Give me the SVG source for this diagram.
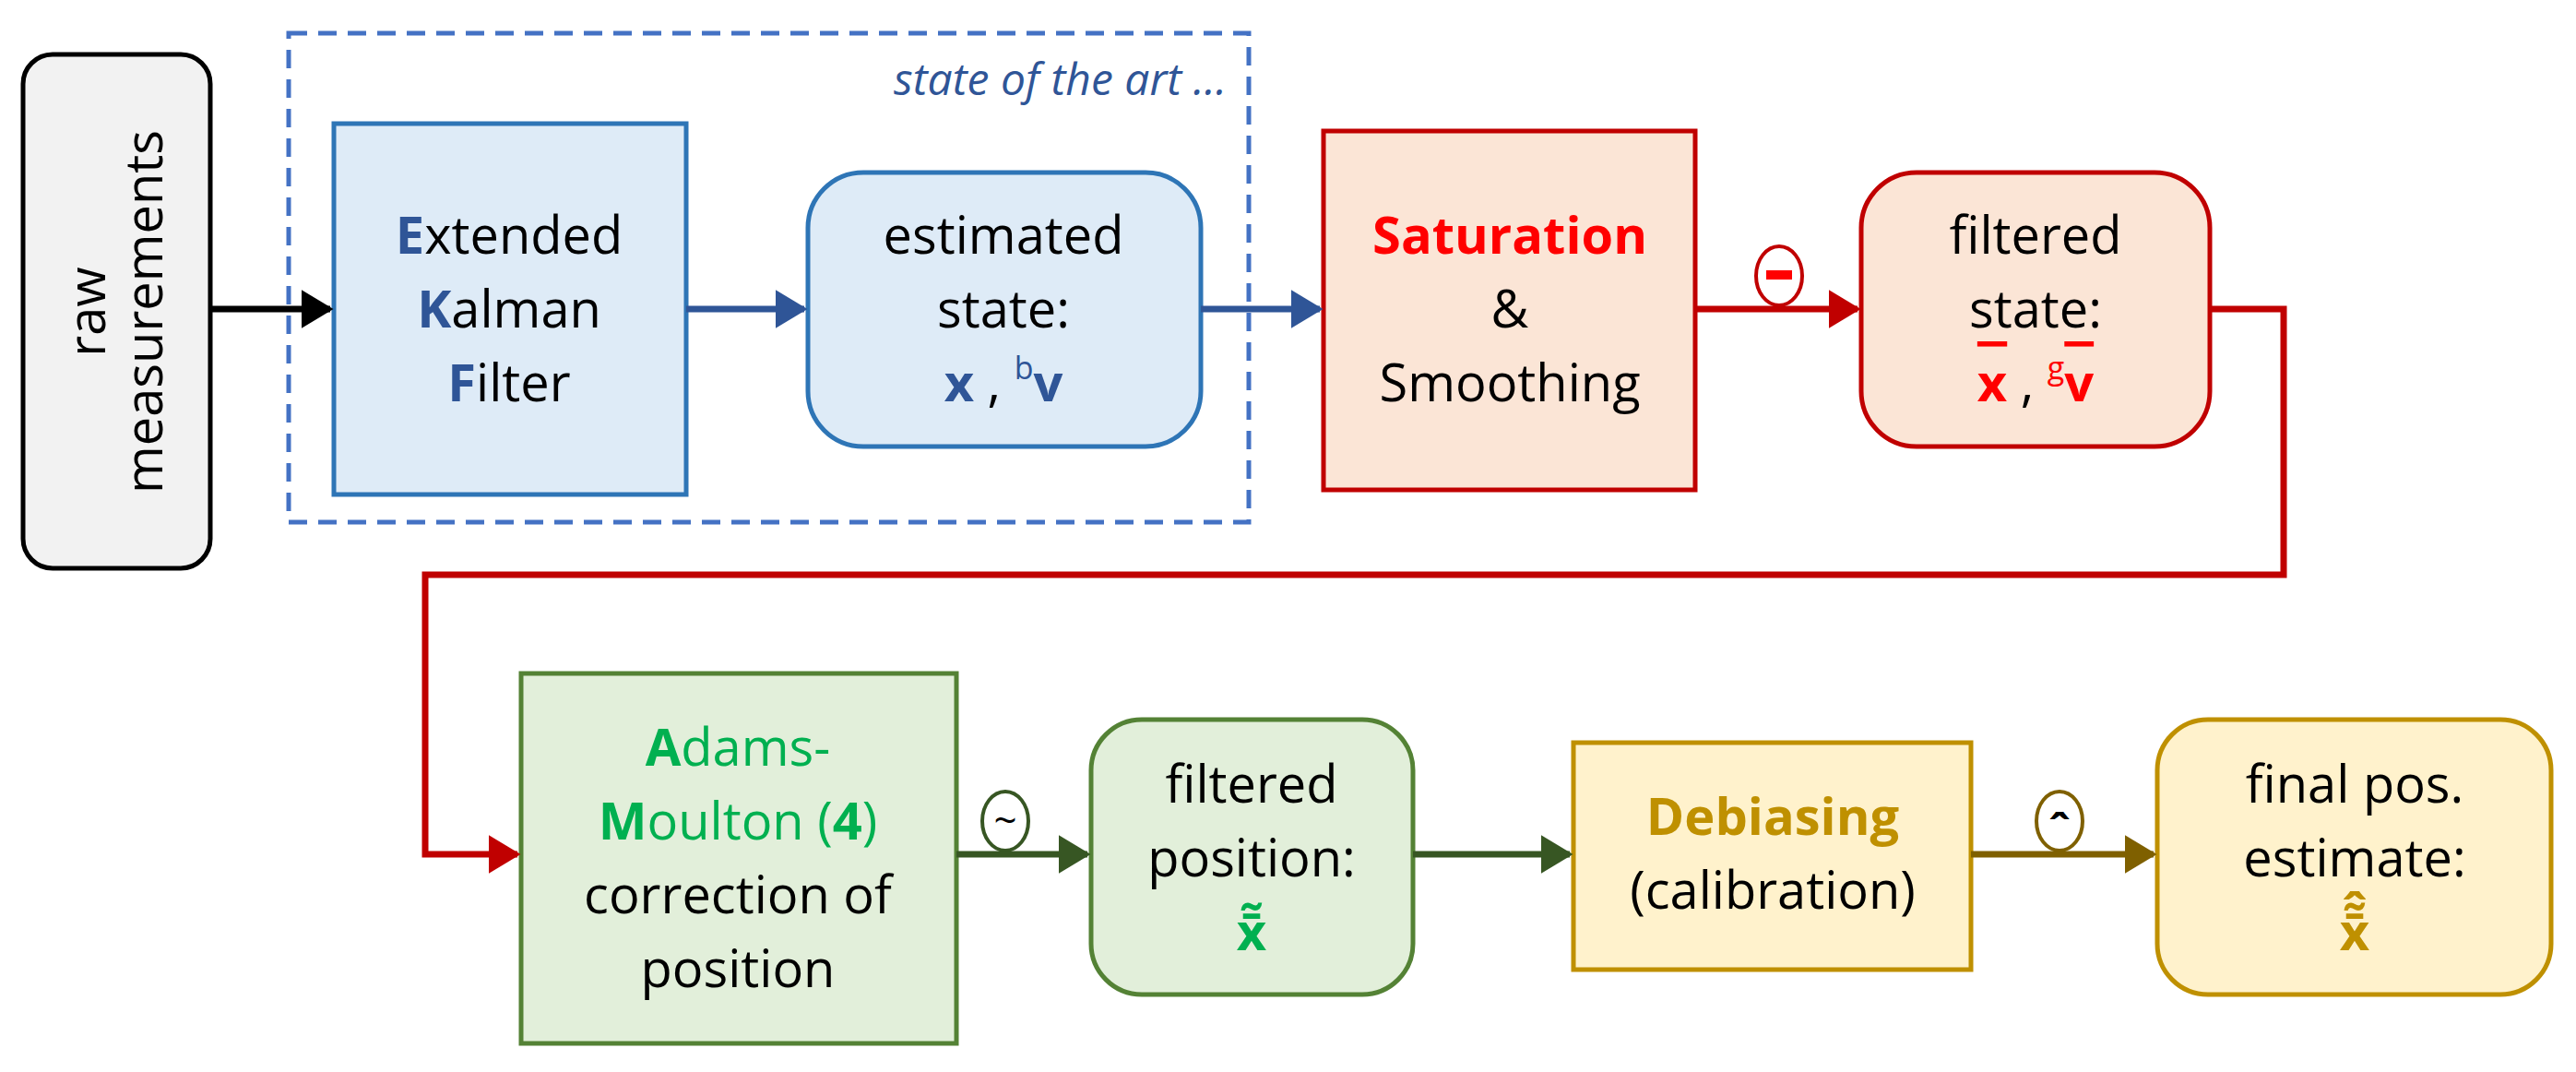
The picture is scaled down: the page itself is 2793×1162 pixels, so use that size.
<svg xmlns="http://www.w3.org/2000/svg" width="2793" height="1162" viewBox="0 0 2793 1162">
<style>
text{font-family:"Open Sans","Liberation Sans",sans-serif;font-size:56px;text-anchor:middle;fill:#000}
.b{font-weight:bold}
.bl{fill:#2F5597}.rd{fill:#FF0000}.gr{fill:#00B050}.go{fill:#BF9000}
.ln{fill:none;stroke-width:7}
</style>
<defs>
<marker id="ak" markerWidth="5" markerHeight="6" refX="4.5" refY="3" orient="auto" markerUnits="strokeWidth"><path d="M0,0L5,3L0,6z" fill="#000"/></marker>
<marker id="ab" markerWidth="5" markerHeight="6" refX="4.5" refY="3" orient="auto" markerUnits="strokeWidth"><path d="M0,0L5,3L0,6z" fill="#2F5597"/></marker>
<marker id="ar" markerWidth="5" markerHeight="6" refX="4.5" refY="3" orient="auto" markerUnits="strokeWidth"><path d="M0,0L5,3L0,6z" fill="#C00000"/></marker>
<marker id="ag" markerWidth="5" markerHeight="6" refX="4.5" refY="3" orient="auto" markerUnits="strokeWidth"><path d="M0,0L5,3L0,6z" fill="#375623"/></marker>
<marker id="ao" markerWidth="5" markerHeight="6" refX="4.5" refY="3" orient="auto" markerUnits="strokeWidth"><path d="M0,0L5,3L0,6z" fill="#7F6000"/></marker>
</defs>
<g id="soa">
<rect x="313" y="36" width="1041" height="530" fill="none" stroke="#4472C4" stroke-width="5" stroke-dasharray="20,12"/>
<text x="1330" y="103" style="text-anchor:end;font-style:italic;font-size:48px" class="bl">state of the art …</text>
</g>
<g id="raw">
<rect x="25" y="59" width="203" height="557" rx="32" fill="#F2F2F2" stroke="#000" stroke-width="5"/>
<text transform="translate(126,338) rotate(-90)" y="-12">raw</text>
<text transform="translate(126,338) rotate(-90)" y="50">measurements</text>
</g>
<g id="ekf">
<rect x="362" y="134" width="382" height="402" fill="#DEEBF7" stroke="#2E75B6" stroke-width="5"/>
<text x="552" y="275"><tspan class="b bl">E</tspan>xtended</text>
<text x="552" y="355"><tspan class="b bl">K</tspan>alman</text>
<text x="552" y="435"><tspan class="b bl">F</tspan>ilter</text>
</g>
<g id="est">
<rect x="876" y="187" width="426" height="297" rx="60" fill="#DEEBF7" stroke="#2E75B6" stroke-width="5"/>
<text x="1088" y="275">estimated</text>
<text x="1088" y="355">state:</text>
<text x="1088" y="435"><tspan class="b bl">x</tspan> , <tspan class="bl" font-size="34" dy="-24">b</tspan><tspan class="b bl" dy="24">v</tspan></text>
</g>
<g id="sat">
<rect x="1435" y="142" width="403" height="389" fill="#FBE5D6" stroke="#C00000" stroke-width="5"/>
<text x="1637" y="275" class="b rd">Saturation</text>
<text x="1637" y="355">&amp;</text>
<text x="1637" y="435">Smoothing</text>
</g>
<g id="fst">
<rect x="2018" y="187" width="378" height="297" rx="60" fill="#FBE5D6" stroke="#C00000" stroke-width="5"/>
<text x="2207" y="275">filtered</text>
<text x="2207" y="355">state:</text>
<text x="2207" y="435"><tspan class="b rd" text-decoration="overline">x</tspan> , <tspan class="rd" font-size="34" dy="-24">g</tspan><tspan class="b rd" dy="24" text-decoration="overline">v</tspan></text>
</g>
<g id="am">
<rect x="565" y="730" width="472" height="401" fill="#E2EFDA" stroke="#548235" stroke-width="5"/>
<text x="800" y="830" class="gr"><tspan class="b">A</tspan>dams-</text>
<text x="800" y="910" class="gr"><tspan class="b">M</tspan>oulton (<tspan class="b">4</tspan>)</text>
<text x="800" y="990">correction of</text>
<text x="800" y="1070">position</text>
</g>
<g id="fpos">
<rect x="1183" y="780" width="349" height="298" rx="55" fill="#E2EFDA" stroke="#548235" stroke-width="5"/>
<text x="1357" y="870">filtered</text>
<text x="1357" y="950">position:</text>
<text x="1357" y="1030" class="b gr">x̄̃</text>
</g>
<g id="deb">
<rect x="1706" y="805" width="431" height="246" fill="#FFF2CC" stroke="#BF9000" stroke-width="5"/>
<text x="1922" y="905" class="b go">Debiasing</text>
<text x="1922" y="985">(calibration)</text>
</g>
<g id="fin">
<rect x="2339" y="780" width="427" height="298" rx="55" fill="#FFF2CC" stroke="#BF9000" stroke-width="5"/>
<text x="2553" y="870">final pos.</text>
<text x="2553" y="950">estimate:</text>
<text x="2553" y="1030" class="b go">x̄̃̂</text>
</g>
<g id="connectors">
<path class="ln" stroke="#000" d="M228,335H358" marker-end="url(#ak)"/>
<path class="ln" stroke="#2F5597" d="M744,335H872" marker-end="url(#ab)"/>
<path class="ln" stroke="#2F5597" d="M1302,335H1431" marker-end="url(#ab)"/>
<path class="ln" stroke="#C00000" d="M1838,335H2014" marker-end="url(#ar)"/>
<path class="ln" stroke="#C00000" d="M2396,335H2476V623H461V926H561" marker-end="url(#ar)"/>
<path class="ln" stroke="#375623" d="M1037,926H1179" marker-end="url(#ag)"/>
<path class="ln" stroke="#375623" d="M1532,926H1702" marker-end="url(#ag)"/>
<path class="ln" stroke="#7F6000" d="M2137,926H2335" marker-end="url(#ao)"/>
<ellipse cx="1929" cy="299" rx="25" ry="32" fill="#fff" stroke="#C00000" stroke-width="4"/>
<rect x="1915" y="293" width="28" height="10" fill="#FF0000"/>
<ellipse cx="1090" cy="890" rx="25" ry="32" fill="#fff" stroke="#375623" stroke-width="4"/>
<text x="1090" y="905" style="font-size:44px" fill="#375623">~</text>
<ellipse cx="2233" cy="890" rx="25" ry="32" fill="#fff" stroke="#7F6000" stroke-width="4"/>
<text x="2233" y="917" style="font-size:48px;font-weight:bold" fill="#7F6000">ˆ</text>
</g>
</svg>
